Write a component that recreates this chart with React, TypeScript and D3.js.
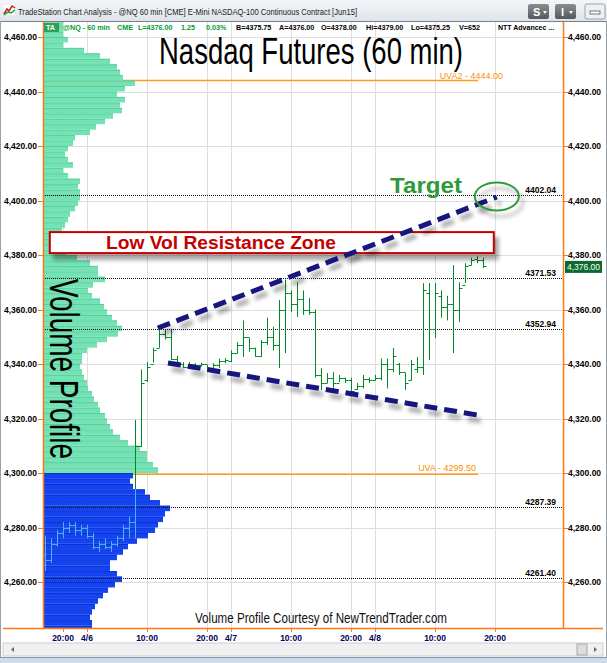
import React from "react";
import * as d3 from "d3";

const W = 607;
const H = 663;

// Hourly bars; first bar is 4/5 17:00 (hour -7 relative to 4/6 00:00)
const firstHour = -7;
const opens = [4270, 4268, 4274, 4278, 4280, 4281, 4279, 4280, 4277, 4273, 4274, 4273, 4274, 4276, 4280, 4282, 4310, 4334, 4340, 4346, 4351, 4350, 4342, 4340, 4339, 4340, 4339.5, 4340, 4338, 4339.5, 4341, 4341, 4344, 4347, 4350, 4346, 4343, 4348, 4350, 4347, 4360, 4366, 4362, 4364, 4360, 4359, 4336, 4333, 4335, 4333, 4335, 4334, 4331, 4332, 4334.5, 4334, 4335, 4340, 4338, 4340, 4337, 4334, 4338, 4339, 4366, 4353, 4365, 4361, 4362, 4360, 4369, 4376.5, 4378.5, 4378];
const highs = [4277, 4276, 4279, 4282, 4282, 4282, 4281, 4281, 4278, 4275, 4276, 4275, 4277, 4281, 4284, 4319.5, 4338, 4340.7, 4346, 4354.3, 4352.5, 4352.5, 4343, 4340.7, 4340.7, 4340.3, 4340.5, 4339.6, 4340.3, 4342, 4342.2, 4345, 4348, 4356, 4349.5, 4346, 4348.8, 4357, 4353.6, 4363.5, 4371, 4367, 4370, 4367, 4364.2, 4360, 4338.5, 4336.7, 4337, 4336, 4335, 4335, 4333, 4336, 4335, 4336, 4342, 4342, 4345.9, 4340.4, 4336.7, 4341.5, 4342.6, 4369.7, 4369.7, 4369.7, 4367, 4365, 4376.3, 4370, 4377, 4379, 4379.5, 4379];
const lows = [4264, 4267, 4273, 4276, 4278, 4277, 4277, 4276, 4272, 4271, 4272, 4271, 4273, 4275, 4276, 4276, 4309.5, 4333.4, 4340.5, 4346, 4349, 4341.5, 4339.6, 4338.5, 4339, 4338.8, 4339, 4337, 4337.8, 4338.5, 4340.3, 4340.7, 4344, 4342.6, 4344.5, 4342.6, 4342.6, 4347, 4345, 4338.5, 4344, 4359, 4357.3, 4358, 4358, 4335, 4330.5, 4333, 4330.5, 4333.4, 4333, 4328, 4330.5, 4331, 4333, 4334, 4334, 4331, 4337, 4336, 4330.5, 4334, 4336.7, 4336, 4341.5, 4349.5, 4357, 4356, 4344, 4355.4, 4369.7, 4376.3, 4377, 4375.25];
const closes = [4268, 4274, 4278, 4280, 4281, 4279, 4280, 4277, 4273, 4274, 4273, 4274, 4276, 4280, 4282, 4310, 4333, 4339, 4345, 4351, 4350, 4342, 4340, 4339, 4340, 4339.5, 4340, 4338, 4339.5, 4341, 4341.5, 4344, 4347, 4350, 4346, 4343, 4348, 4350, 4347, 4360, 4366, 4362, 4364, 4360, 4359, 4336, 4333, 4335, 4333, 4335, 4334, 4330, 4332, 4334.5, 4334, 4335, 4340, 4338, 4343, 4337, 4333, 4340, 4339, 4367, 4353, 4366, 4361, 4362, 4360, 4368, 4376, 4378, 4378, 4376];

// Volume profile: rows of 2 points, from 4242 upward
const profileBottom = 4242;
const profileStep = 2;
const valueSplit = 4300;
const profileVolumes = [
  48, 48, 46, 48, 51, 54, 59, 64, 71, 78, 73, 66, 66, 73, 79, 84, 93, 104, 111, 114, 119, 121, 126, 116, 106, 101, 89, 86, 89,
  114, 109, 103, 103, 96, 84, 76, 69, 66, 63,
  61, 56, 54, 50, 48, 44, 43, 40, 38, 36,
  38, 38, 43, 53, 63, 74, 78, 73, 68, 63,
  60, 56, 48, 44, 49, 61, 54, 54, 46, 33,
  22, 30, 28, 22, 18, 21, 24, 26, 31, 34,
  36, 36, 34, 36, 24, 19, 29, 24, 21, 24,
  29, 31, 46, 52, 61, 69, 78, 76, 81, 73,
  81, 91, 79, 76, 73, 66, 56, 40, 19, 24,
  19, 19, 19,
];

const priceTicks = [4260, 4280, 4300, 4320, 4340, 4360, 4380, 4400, 4420, 4440, 4460];
const timeTicks = [-4, 0, 10, 20, 24, 34, 44, 48, 58, 68];
const timeLabels = ["20:00", "4/6", "10:00", "20:00", "4/7", "10:00", "20:00", "4/8", "10:00", "20:00"];

const levelValues = [4402.04, 4371.53, 4352.94, 4287.39, 4261.4];
const uvaValues = [4444.0, 4299.5];
const uvaLabels = ["UVA2 - 4444.00", "UVA - 4299.50"];

const upperTrendHours = [11.8, 68.3];
const upperTrendPrices = [4353.2, 4401.3];
const lowerTrendHours = [13.5, 65];
const lowerTrendPrices = [4340.4, 4321.3];
const zoneHours = [-6.2, 67.8];
const zonePrices = [4380.7, 4388.4];
const targetHour = 68.3;
const targetPrice = 4401.5;
const lastPrice = 4376.0;

const titleText = "TradeStation Chart Analysis - @NQ 60 min [CME] E-Mini NASDAQ-100 Continuous Contract [Jun15]";
const headerGreenTokens = ["@NQ - 60 min", "CME", "L=4376.00", "1.25", "0.03%"];
const headerBlackTokens = ["B=4375.75", "A=4376.00", "O=4378.00", "Hi=4379.00", "Lo=4375.25", "V=652"];
const headerStudy = "NTT Advancec ...";

export default function App() {
  const x = d3.scaleLinear().domain([-7 - 1 / 3, 79 + 1 / 3]).range([43, 563]);
  const y = d3.scaleLinear().domain([4460, 4260]).range([37, 582]);
  const vx = d3.scaleLinear().domain([0, 130]).range([44, 174]);
  const crisp = (v: number) => Math.round(v) + 0.5;
  const fmt = d3.format(",.2f");

  const bars = opens.map((o, i) => ({ h: firstHour + i, o, hi: highs[i], lo: lows[i], c: closes[i] }));
  const rows = profileVolumes.map((v, i) => ({ lo: profileBottom + i * profileStep, v }));
  const green = rows.filter((r) => r.lo >= valueSplit);
  const blue = rows.filter((r) => r.lo < valueSplit);

  const barPath = bars
    .map((b) => {
      const cx = crisp(x(b.h));
      return `M${cx},${y(b.hi).toFixed(1)}V${y(b.lo).toFixed(1)}M${cx - 3},${crisp(y(b.o))}H${cx}M${cx},${crisp(y(b.c))}H${cx + 3}`;
    })
    .join("");

  const line = d3.line<[number, number]>().x((d) => x(d[0])).y((d) => y(d[1]));
  const upper = line(upperTrendHours.map((h, i) => [h, upperTrendPrices[i]] as [number, number]))!;
  const lower = line(lowerTrendHours.map((h, i) => [h, lowerTrendPrices[i]] as [number, number]))!;

  const rowRect = (r: { lo: number; v: number }) => ({
    x: 44,
    y: y(r.lo + profileStep),
    w: vx(r.v) - 44,
    h: y(r.lo) - y(r.lo + profileStep),
  });

  const axisFont = "'Liberation Sans', Arial, sans-serif";
  const narrow = "'Liberation Sans Narrow', 'Arial Narrow', 'Liberation Sans', Arial, sans-serif";
  const greenTokenX = [63, 117, 138, 181, 206];
  const blackTokenX = [236, 279, 321, 366, 411, 459];

  return (
    <svg width={W} height={H} style={{ position: "absolute", left: 0, top: 0, background: "#fff" }} xmlns="http://www.w3.org/2000/svg">
      <defs>
        <filter id="shadow" filterUnits="userSpaceOnUse" x="0" y="0" width={W} height={H}>
          <feGaussianBlur in="SourceAlpha" stdDeviation="2.2" />
          <feOffset dx="4" dy="6" result="o" />
          <feComponentTransfer>
            <feFuncA type="linear" slope="0.35" />
          </feComponentTransfer>
          <feMerge>
            <feMergeNode />
            <feMergeNode in="SourceGraphic" />
          </feMerge>
        </filter>
        <clipPath id="plot">
          <rect x={43} y={22} width={520} height={606} />
        </clipPath>
        <clipPath id="blueClip">
          {blue.map((r, i) => {
            const rr = rowRect(r);
            return <rect key={i} x={rr.x} y={rr.y} width={rr.w} height={rr.h} />;
          })}
        </clipPath>
        <linearGradient id="titleGrad" x1="0" y1="0" x2="0" y2="1">
          <stop offset="0" stopColor="#f4f6f9" />
          <stop offset="1" stopColor="#dfe4ea" />
        </linearGradient>
        <linearGradient id="btnGrad" x1="0" y1="0" x2="0" y2="1">
          <stop offset="0" stopColor="#8a8d91" />
          <stop offset="1" stopColor="#55585c" />
        </linearGradient>
      </defs>

      {/* window chrome */}
      <rect x={0} y={0} width={W} height={21} fill="url(#titleGrad)" />
      <g>
        <rect x={4} y={5} width={11} height={10} fill="#fff" />
        <path d="M4,14 L7,9 L9,11 L12,6 L15,8" stroke="#c02020" strokeWidth={1.5} fill="none" />
        <path d="M4,15 L8,12 L11,13 L15,10" stroke="#1a9a30" strokeWidth={1.5} fill="none" />
      </g>
      <text x={18} y={15} fontFamily="'Liberation Sans', Arial, sans-serif" fontSize={9.5} fill="#222" textLength={339} lengthAdjust="spacingAndGlyphs">
        {titleText}
      </text>
      <rect x={528} y={4} width={21} height={15} rx={2} fill="url(#btnGrad)" />
      <text x={533} y={16} fontFamily={axisFont} fontWeight="bold" fontSize={11} fill="#fff">S</text>
      <path d="M543,11 l4,0 l-2,3 z" fill="#fff" />
      <rect x={555} y={4} width={21} height={15} rx={2} fill="url(#btnGrad)" />
      <text x={561} y={16} fontFamily={axisFont} fontWeight="bold" fontSize={11} fill="#fff">I</text>
      <path d="M569,11 l4,0 l-2,3 z" fill="#fff" />
      <rect x={585} y={4} width={20} height={15} rx={2} fill="#eef1f4" stroke="#9aa2aa" />
      <rect x={590} y={11} width={10} height={3} fill="#fff" stroke="#555" strokeWidth={0.8} />
      <line x1={0} y1={21.5} x2={W} y2={21.5} stroke="#7a7f86" />
      <line x1={0.5} y1={21} x2={0.5} y2={H} stroke="#9aa0a8" />
      <line x1={W - 0.5} y1={21} x2={W - 0.5} y2={H} stroke="#9aa0a8" />

      {/* grid */}
      <g clipPath="url(#plot)">
        {timeTicks.map((t, i) => (
          <line key={"vg" + i} x1={crisp(x(t))} x2={crisp(x(t))} y1={22} y2={628} stroke="#dedede" />
        ))}
        {priceTicks.map((p, i) => (
          <line key={"hg" + i} x1={43} x2={563} y1={crisp(y(p))} y2={crisp(y(p))} stroke="#dedede" />
        ))}

        {/* UVA lines */}
        {uvaValues.map((v, i) => (
          <line key={"uva" + i} x1={43} x2={478} y1={y(v)} y2={y(v)} stroke="#ff9c1e" strokeWidth={1.5} />
        ))}

        {/* volume profile */}
        {green.map((r, i) => {
          const rr = rowRect(r);
          return (
            <g key={"g" + i}>
              <rect x={rr.x} y={rr.y} width={rr.w} height={rr.h} fill="#74e2b4" />
              <line x1={44} x2={rr.x + rr.w} y1={rr.y + 0.5} y2={rr.y + 0.5} stroke="#4fc994" strokeWidth={0.8} />
            </g>
          );
        })}
        {blue.map((r, i) => {
          const rr = rowRect(r);
          return (
            <g key={"b" + i}>
              <rect x={rr.x} y={rr.y} width={rr.w} height={rr.h} fill="#1443f2" />
              <line x1={44} x2={rr.x + rr.w} y1={rr.y + 0.5} y2={rr.y + 0.5} stroke="#0a2cc0" strokeWidth={0.8} />
            </g>
          );
        })}

        {/* key dotted levels */}
        {levelValues.map((v, i) => (
          <line key={"lv" + i} x1={43} x2={563} y1={crisp(y(v))} y2={crisp(y(v))} stroke="#111" strokeDasharray="1,1" />
        ))}

        {/* price bars */}
        <path d={barPath} stroke="#008a2a" strokeWidth={1} fill="none" />
        <path d={barPath} stroke="#4bb4f4" strokeWidth={1} fill="none" clipPath="url(#blueClip)" />
      </g>

      {/* resistance zone */}
      <g filter="url(#shadow)">
        <rect
          x={x(zoneHours[0])}
          y={y(zonePrices[1])}
          width={x(zoneHours[1]) - x(zoneHours[0])}
          height={y(zonePrices[0]) - y(zonePrices[1])}
          fill="#fff"
          stroke="#c40000"
          strokeWidth={2}
        />
      </g>
      <text x={106} y={249} fontFamily={axisFont} fontWeight="bold" fontSize={18} fill="#c40000" textLength={230} lengthAdjust="spacingAndGlyphs">
        Low Vol Resistance Zone
      </text>

      {/* trend lines */}
      <g filter="url(#shadow)">
        <path d={upper} stroke="#15157e" strokeWidth={5} strokeDasharray="13,7" fill="none" />
        <path d={lower} stroke="#15157e" strokeWidth={5} strokeDasharray="13,7" fill="none" />
      </g>

      {/* target */}
      <g filter="url(#shadow)">
        <ellipse cx={x(targetHour)} cy={y(targetPrice)} rx={22} ry={14} fill="none" stroke="#2f9a3a" strokeWidth={2} />
      </g>
      <text x={390} y={193} fontFamily={axisFont} fontWeight="bold" fontSize={22} fill="#2f9a3a" textLength={72} lengthAdjust="spacingAndGlyphs">
        Target
      </text>

      {/* titles */}
      <text x={159} y={64} fontFamily={narrow} fontSize={36} fill="#000" textLength={304} lengthAdjust="spacingAndGlyphs">
        Nasdaq Futures (60 min)
      </text>
      <text transform="translate(50,279) rotate(90)" fontFamily={narrow} fontSize={40} fill="#000" textLength={180} lengthAdjust="spacingAndGlyphs">
        Volume Profile
      </text>
      <text x={195} y={623} fontFamily={narrow} fontSize={15} fill="#111" textLength={252} lengthAdjust="spacingAndGlyphs">
        Volume Profile Courtesy of NewTrendTrader.com
      </text>

      {/* level labels */}
      {levelValues.map((v, i) => (
        <text key={"ll" + i} x={556} y={y(v) - 2} textAnchor="end" fontFamily={axisFont} fontWeight="bold" fontSize={8.5} fill="#000">
          {v.toFixed(2)}
        </text>
      ))}
      <text x={503} y={79} textAnchor="end" fontFamily={axisFont} fontSize={9} fill="#ff8c00">{uvaLabels[0]}</text>
      <text x={476} y={471} textAnchor="end" fontFamily={axisFont} fontSize={9} fill="#ff8c00">{uvaLabels[1]}</text>

      {/* axes frame */}
      <line x1={43.5} y1={22} x2={43.5} y2={628} stroke="#ff7a14" strokeWidth={1.5} />
      <line x1={563.5} y1={22} x2={563.5} y2={628} stroke="#ff7a14" strokeWidth={1.5} />
      <line x1={3} y1={628.5} x2={603} y2={628.5} stroke="#ff7a14" strokeWidth={1.5} />
      {priceTicks.map((p, i) => (
        <g key={"pt" + i}>
          <line x1={38} x2={43} y1={crisp(y(p))} y2={crisp(y(p))} stroke="#ff7a14" />
          <line x1={564} x2={568} y1={crisp(y(p))} y2={crisp(y(p))} stroke="#ff7a14" />
          <text x={37} y={y(p) + 3} textAnchor="end" fontFamily={axisFont} fontWeight="bold" fontSize={8.5} fill="#000">
            {fmt(p)}
          </text>
          <text x={568} y={y(p) + 3} fontFamily={axisFont} fontWeight="bold" fontSize={8.5} fill="#000">
            {fmt(p)}
          </text>
        </g>
      ))}
      {timeTicks.map((t, i) => (
        <g key={"tt" + i}>
          <line x1={crisp(x(t))} x2={crisp(x(t))} y1={628} y2={632} stroke="#ff7a14" />
          <text x={x(t)} y={641} textAnchor="middle" fontFamily={axisFont} fontWeight="bold" fontSize={8.5} fill="#00005a">
            {timeLabels[i]}
          </text>
        </g>
      ))}

      {/* last price marker */}
      <rect x={565} y={y(lastPrice) - 5} width={37} height={12} fill="#0b6b2c" />
      <text x={583.5} y={y(lastPrice) + 4} textAnchor="middle" fontFamily={axisFont} fontSize={8.5} fill="#fff">
        {fmt(lastPrice)}
      </text>

      {/* header row */}
      <rect x={44} y={23} width={15} height={9} fill="#2fa058" />
      <text x={46} y={30} fontFamily={axisFont} fontWeight="bold" fontSize={7.2} fill="#fff">TA</text>
      {headerGreenTokens.map((t, i) => (
        <text key={"hg" + i} x={greenTokenX[i]} y={29.5} fontFamily={axisFont} fontWeight="bold" fontSize={7.2} fill="#00a032">
          {t}
        </text>
      ))}
      {headerBlackTokens.map((t, i) => (
        <text key={"hb" + i} x={blackTokenX[i]} y={29.5} fontFamily={axisFont} fontWeight="bold" fontSize={7.2} fill="#000">
          {t}
        </text>
      ))}
      <text x={498} y={29.5} fontFamily={axisFont} fontWeight="bold" fontSize={7} fill="#000">
        {headerStudy}
      </text>

      {/* scrollbar */}
      <rect x={3} y={643} width={600} height={13} fill="#f0f0f0" stroke="#cfcfcf" />
      <path d="M11,649.5 l3,-2.5 v5 z" fill="#666" />
      <rect x={577} y={644} width={10} height={11} fill="#dcdcdc" stroke="#a8a8a8" />
      <path d="M594,647 l3,2.5 l-3,2.5 z" fill="#666" />
      <rect x={0} y={657} width={W} height={6} fill="#cfdbe8" />
      <line x1={0} y1={657.5} x2={W} y2={657.5} stroke="#8a96a4" />
    </svg>
  );
}
